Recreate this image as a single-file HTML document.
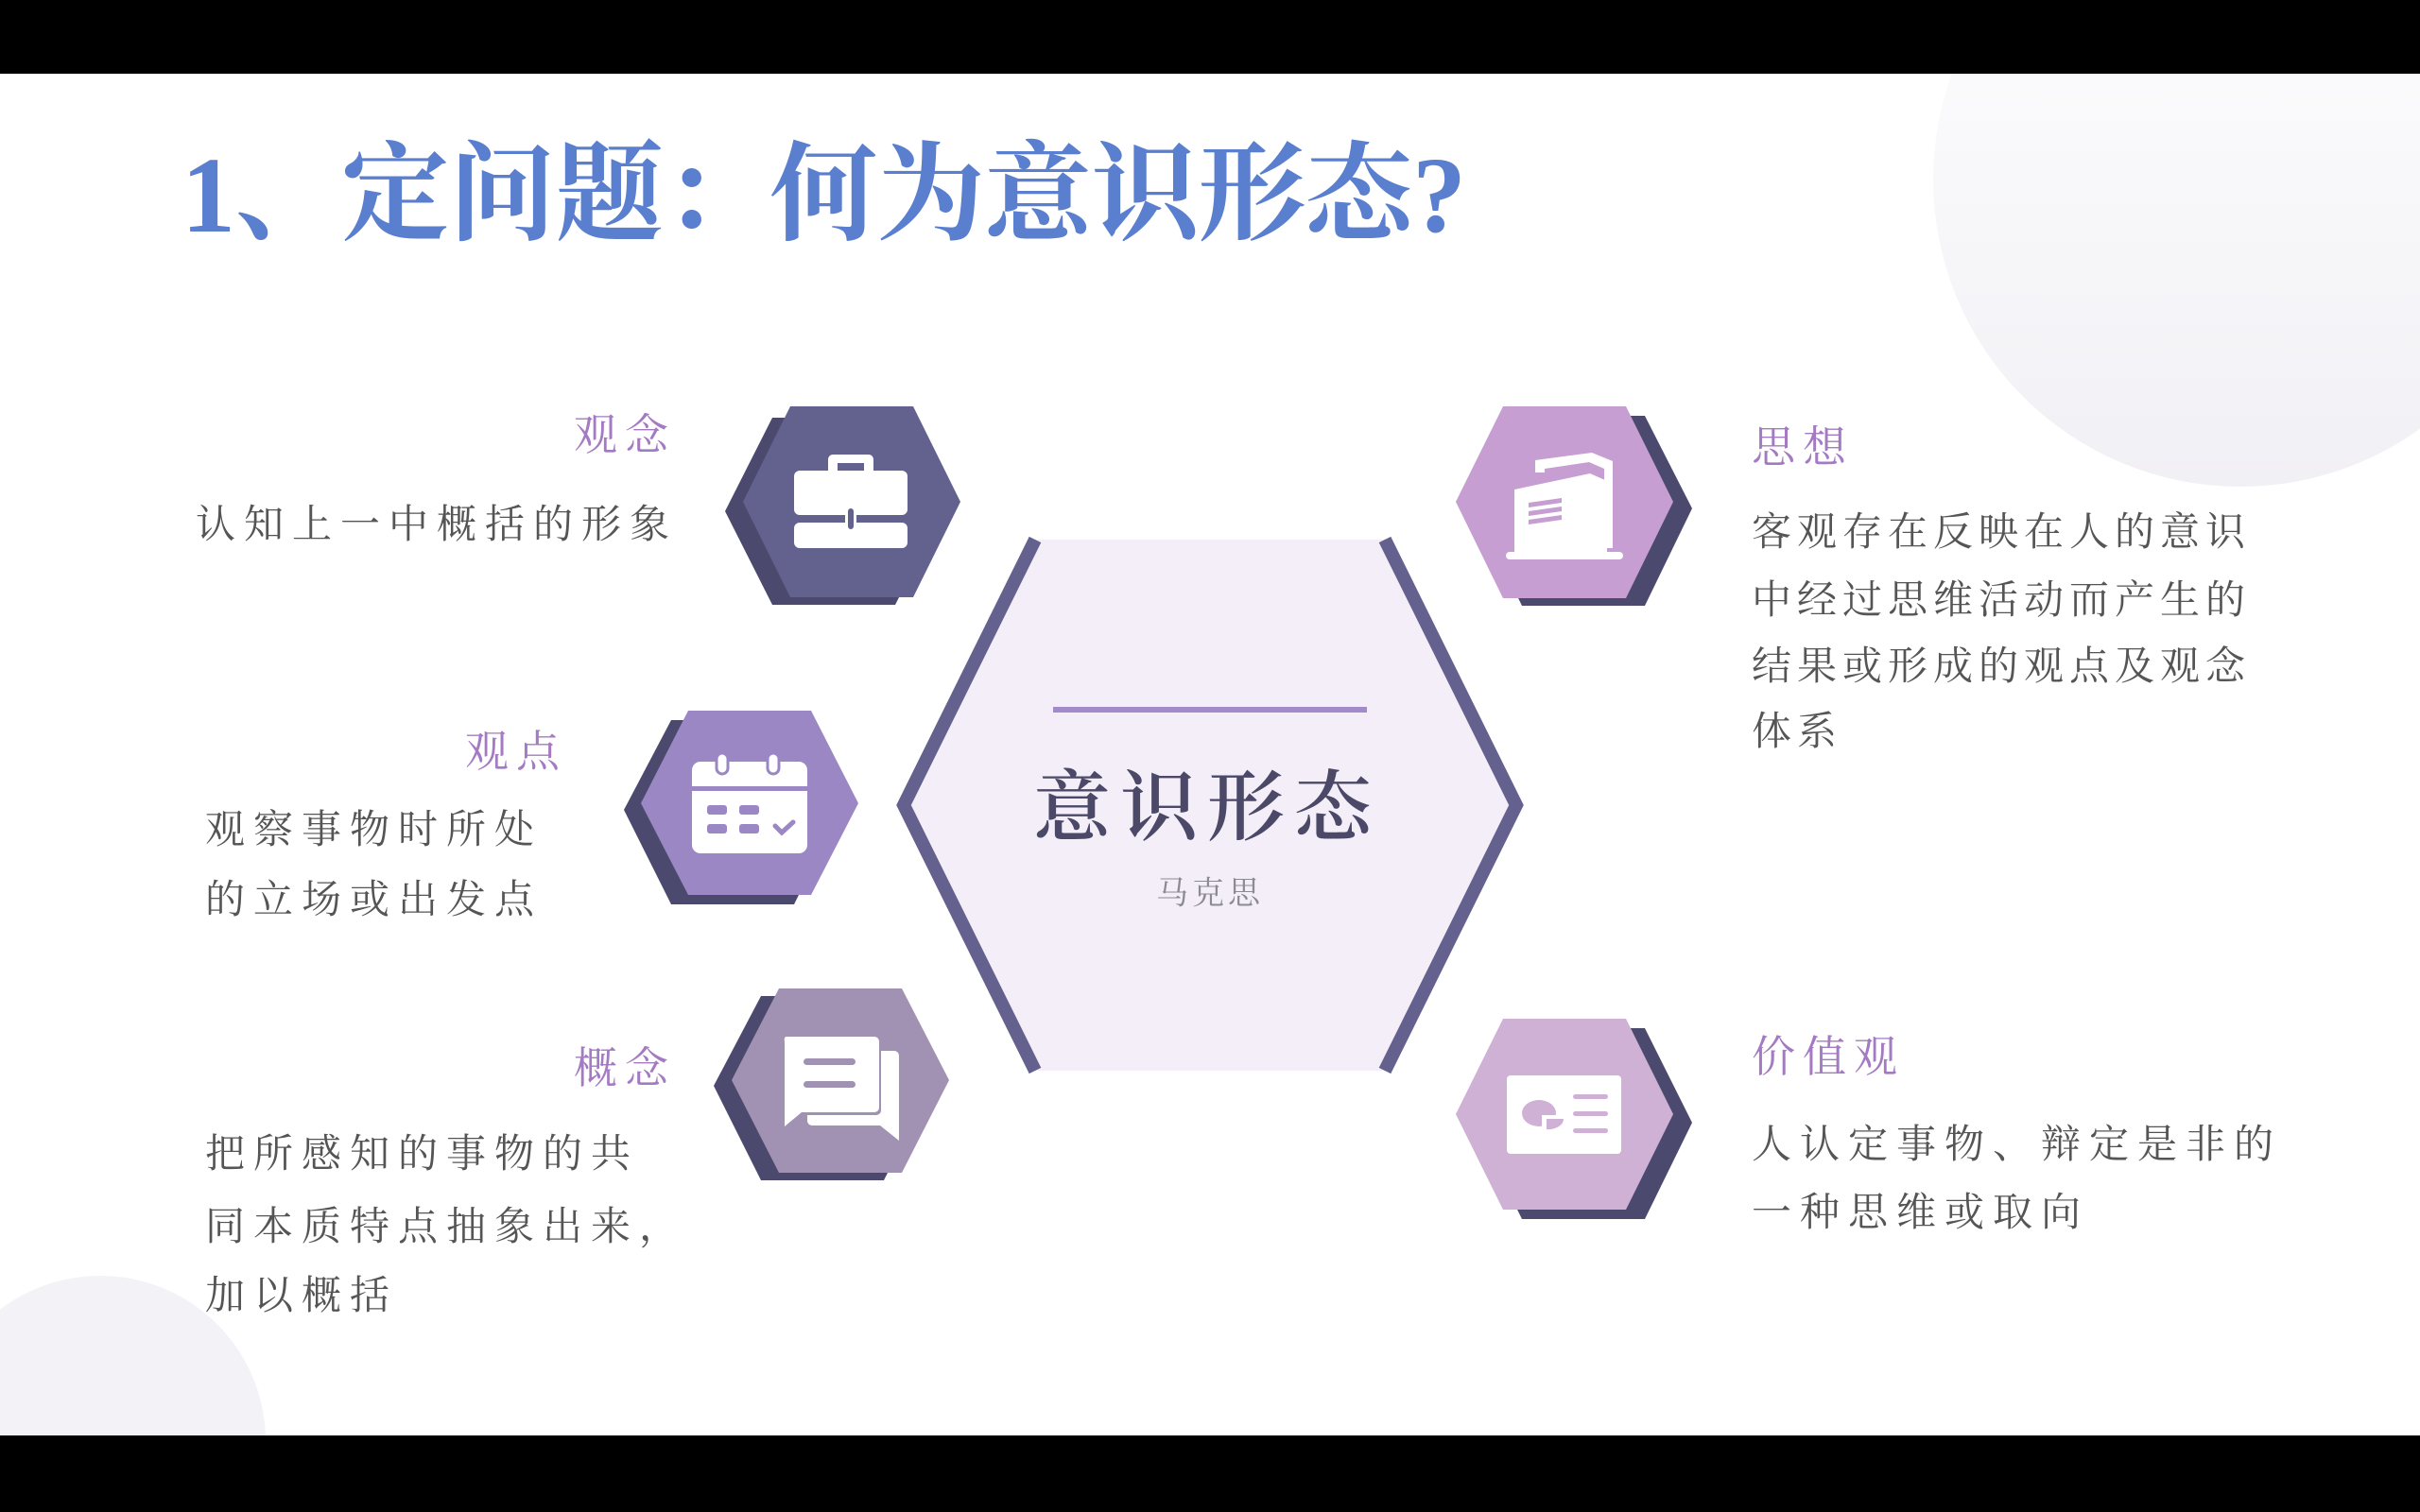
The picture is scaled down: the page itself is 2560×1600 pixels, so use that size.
<!DOCTYPE html>
<html><head><meta charset="utf-8"><style>
html,body{margin:0;padding:0;background:#000;width:2560px;height:1600px;overflow:hidden}
svg{display:block}
</style></head><body>
<svg width="2560" height="1600" viewBox="0 0 2560 1600" xmlns="http://www.w3.org/2000/svg">
<defs>
<clipPath id="pg"><rect x="0" y="78" width="2560" height="1441"/></clipPath>
<linearGradient id="g1" x1="0" y1="0" x2="0" y2="1"><stop offset="0" stop-color="#ffffff"/><stop offset="1" stop-color="#f1f0f5"/></linearGradient>
</defs>
<rect x="0" y="0" width="2560" height="1600" fill="#000"/>
<rect x="0" y="78" width="2560" height="1441" fill="#fff"/>
<g clip-path="url(#pg)">
<circle cx="2370" cy="190" r="325" fill="url(#g1)"/>
<circle cx="106" cy="1525" r="175" fill="#f3f2f6"/>
</g>

<text x="192" y="245" font-family="'Liberation Serif','Noto Serif CJK SC',serif" font-weight="bold" font-size="114" fill="#5b7fcf" textLength="1359" lengthAdjust="spacing">1、定问题：何为意识形态?</text>

<polygon points="1095,571 1465,571 1604,852 1465,1133 1095,1133 956,852" fill="#f3eef7"/>
<polyline points="1095,571 956,852 1095,1133" fill="none" stroke="#65618f" stroke-width="14" stroke-linecap="butt"/>
<polyline points="1465,571 1604,852 1465,1133" fill="none" stroke="#65618f" stroke-width="14" stroke-linecap="butt"/>
<rect x="1114" y="748" width="332" height="6" fill="#a28bc8"/>
<text x="1277" y="848" text-anchor="middle" dominant-baseline="central" font-family="'Noto Serif CJK SC',serif" font-size="82" fill="#4b4868" letter-spacing="10" font-weight="600">意识形态</text>
<text x="1280" y="942" text-anchor="middle" dominant-baseline="central" font-family="'Noto Serif CJK SC',serif" font-size="34" fill="#8c8a96" letter-spacing="4">马克思</text>

<polygon points="817,442 947,442 997,541 947,640 817,640 767,541" fill="#4b4a6e"/>
<polygon points="836,430 966,430 1016,531 966,632 836,632 786,531" fill="#63628f"/>
<g fill="#fff">
<path d="M881,481 h38 a5,5 0 0 1 5,5 v12 h-10 v-8 h-28 v8 h-10 v-12 a5,5 0 0 1 5,-5z"/>
<rect x="840" y="498" width="120" height="47" rx="6"/>
<rect x="840" y="553" width="120" height="27" rx="6"/>
<rect x="894" y="535" width="12" height="28" rx="3" fill="#fff"/>
<rect x="897" y="538" width="6" height="22" rx="3" fill="#63628f"/>
</g>
<polygon points="710,762 840,762 890,857 840,957 710,957 660,857" fill="#4b4a6e"/>
<polygon points="728,752 858,752 908,850 858,947 728,947 678,850" fill="#9b87c3"/>
<g fill="#fff">
<rect x="732" y="806" width="122" height="97" rx="9"/>
<rect x="758" y="797" width="12" height="22" rx="6" stroke="#9b87c3" stroke-width="3"/>
<rect x="812" y="797" width="12" height="22" rx="6" stroke="#9b87c3" stroke-width="3"/>
</g>
<rect x="732" y="832" width="122" height="5" fill="#9b87c3"/>
<g fill="#9b87c3">
<rect x="748" y="852" width="21" height="10" rx="3"/><rect x="782" y="852" width="21" height="10" rx="3"/>
<rect x="748" y="872" width="21" height="10" rx="3"/><rect x="782" y="872" width="21" height="10" rx="3"/>
</g>
<polyline points="820,874 827,881 839,870" fill="none" stroke="#9b87c3" stroke-width="5" stroke-linecap="round"/>
<polygon points="805,1054 935,1054 985,1149 935,1249 805,1249 755,1149" fill="#4b4a6e"/>
<polygon points="824,1046 954,1046 1004,1143 954,1241 824,1241 774,1143" fill="#a192b3"/>
<g fill="#fff">
<path d="M932,1112 h14 a5,5 0 0 1 5,5 v90 l-20,-16 h-72 a5,5 0 0 1 -5,-5 v-6 h73 a5,5 0 0 0 5,-5z"/>
<path d="M831,1097 h94 a5,5 0 0 1 5,5 v70 a5,5 0 0 1 -5,5 h-77 l-18,15 v-90 a5,5 0 0 1 1,-5z"/>
</g>
<rect x="850" y="1120" width="55" height="7" rx="3.5" fill="#a192b3"/>
<rect x="850" y="1144" width="55" height="7" rx="3.5" fill="#a192b3"/>

<polygon points="1610,440 1740,440 1790,538 1740,641 1610,641 1560,538" fill="#4b4a6e"/>
<polygon points="1590,430 1720,430 1770,531 1720,633 1590,633 1540,531" fill="#c69ed2"/>
<g fill="#fff">
<path d="M1602,518 l80,-17 l18,8 v82 h-98z"/>
<path d="M1624,487 l60,-8 l22,9 v92 h-9 v-84 l-16,-7 l-47,7 v4 h-10z"/>
<rect x="1593" y="584" width="124" height="8" rx="4"/>
</g>
<g fill="#c69ed2">
<path d="M1617,532 l35,-5 v5 l-35,5z"/><path d="M1617,541 l35,-5 v5 l-35,5z"/><path d="M1617,550 l35,-5 v5 l-35,5z"/>
</g>
<polygon points="1610,1088 1740,1088 1790,1188 1740,1290 1610,1290 1560,1188" fill="#4b4a6e"/>
<polygon points="1590,1078 1720,1078 1770,1179 1720,1280 1590,1280 1540,1179" fill="#cfb1d6"/>
<rect x="1594" y="1138" width="121" height="83" rx="4" fill="#fff"/>
<g fill="#cfb1d6">
<ellipse cx="1628" cy="1178" rx="18" ry="14"/>
<rect x="1664" y="1158" width="37" height="5" rx="2.5"/>
<rect x="1664" y="1176" width="37" height="5" rx="2.5"/>
<rect x="1664" y="1194" width="37" height="5" rx="2.5"/>
</g>
<path d="M1631,1180 h24 a18,13 0 0 1 -24,14z" fill="#fff"/>
<path d="M1636,1184 h18 a16,11 0 0 1 -18,11z" fill="#cfb1d6"/>

<g font-family="'Noto Serif CJK SC',serif" font-size="46" fill="#a47bc2" dominant-baseline="central" letter-spacing="8">
<text x="715" y="457" text-anchor="end">观念</text>
<text x="600" y="792" text-anchor="end">观点</text>
<text x="715" y="1127" text-anchor="end">概念</text>
<text x="1853" y="470">思想</text>
<text x="1853" y="1115">价值观</text>
</g>
<g font-family="'Noto Serif CJK SC',serif" font-size="42" fill="#555" dominant-baseline="central" letter-spacing="9">
<text x="207" y="552">认知上一中概括的形象</text>
<text x="217" y="875">观察事物时所处</text>
<text x="217" y="949">的立场或出发点</text>
<text x="217" y="1218">把所感知的事物的共</text>
<text x="217" y="1295">同本质特点抽象出来，</text>
<text x="217" y="1368">加以概括</text>
<text x="1853" y="560" letter-spacing="6">客观存在反映在人的意识</text>
<text x="1853" y="632" letter-spacing="6">中经过思维活动而产生的</text>
<text x="1853" y="702" letter-spacing="6">结果或形成的观点及观念</text>
<text x="1853" y="771" letter-spacing="6">体系</text>
<text x="1853" y="1208">人认定事物、辩定是非的</text>
<text x="1853" y="1280">一种思维或取向</text>
</g>
</svg>
</body></html>
